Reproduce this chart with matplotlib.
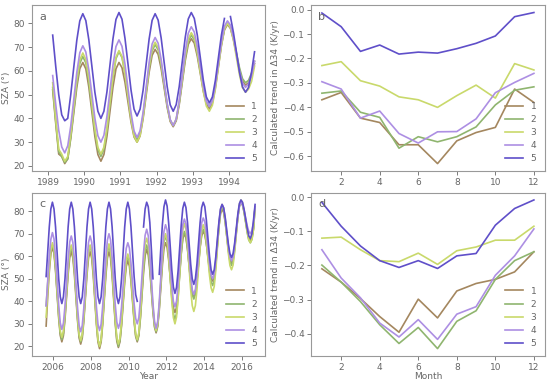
import numpy as np
import matplotlib
matplotlib.use('Agg')
import matplotlib.pyplot as plt

labels = ['1', '2', '3', '4', '5']
colors = ['#a4875f', '#8fb56f', '#c9d96b', '#ad8fe3', '#5f4fc9']

# panel a: monthly SZA, Feb 1989 - Sep 1994
a1 = [52, 38, 25, 24, 21, 23, 31.6, 42.3, 53, 60.9, 63.5,
      60.8, 53.1, 42.8, 32.4, 24.8, 22, 24.8, 32.4, 42.8, 53.1, 60.8, 63.5,
      61.3, 55.1, 46.8, 38.4, 32.2, 30, 32.6, 39.8, 49.5, 59.3, 66.5, 69,
      66.9, 60.9, 52.8, 44.6, 38.7, 36.5, 39, 45.8, 55, 64.3, 71.1, 73.5,
      71.6, 66.1, 58.8, 51.4, 46, 44, 46.4, 52.9, 61.8, 70.6, 77.1, 79.5,
      77.8, 73.1, 66.8, 60.4, 55.7, 54, 55, 58, 63]
a2 = [53, 39, 26, 24, 21.5, 23, 32.3, 43.5, 54.8, 63.1, 66,
      63.3, 55.5, 45, 34.5, 26.8, 24, 27, 35, 46, 57, 65.1, 68,
      65.6, 58.8, 49.5, 40.3, 33.5, 31, 33.7, 41, 51, 61, 68.4, 71,
      68.8, 62.5, 54, 45.5, 39.3, 37, 39.5, 46.5, 56, 65.5, 72.5, 75,
      73, 67.5, 60, 52.5, 47, 45, 47.3, 53.8, 62.5, 71.3, 77.7, 80,
      78.4, 73.8, 67.5, 61.3, 56.7, 55, 56, 59, 64]
a3 = [55, 40, 27, 25, 22, 24, 33.4, 44.8, 56.1, 64.5, 67.5,
      64.7, 56.9, 46.3, 35.6, 27.8, 25, 27.9, 35.9, 46.8, 57.6, 65.7, 68.5,
      66, 58.9, 49.3, 39.6, 32.6, 30, 32.8, 40.5, 51, 61.5, 69.3, 72,
      69.7, 63.3, 54.5, 45.8, 39.3, 37, 39.6, 46.8, 56.5, 66.3, 73.5, 76,
      73.9, 67.8, 59.5, 51.3, 45.2, 43, 45.5, 52.3, 61.5, 70.8, 77.6, 80,
      78.1, 72.8, 65.5, 58.3, 52.9, 51, 52.3, 55.5, 62]
a4 = [58, 46, 35, 28, 25.5, 28.5, 36.8, 48, 59.3, 67.6, 70.5,
      67.9, 60.4, 50.3, 40.1, 32.7, 30, 32.9, 40.8, 51.5, 62.3, 70.2, 73,
      70.3, 62.8, 52.5, 42.3, 34.7, 32, 34.8, 42.5, 53, 63.5, 71.3, 74,
      71.6, 64.8, 55.5, 46.3, 39.5, 37, 39.8, 47.4, 57.8, 68.1, 75.8, 78.5,
      76.3, 70.1, 61.8, 53.4, 47.2, 45, 47.4, 54, 63, 72, 78.7, 81,
      79.2, 74, 67, 60, 54.9, 53, 54.5, 58, 64]
a5 = [75, 62, 50, 41.5, 39, 40, 50, 61.5, 72.8, 81, 84,
      81.1, 73, 62, 51, 43, 40, 43, 51.1, 62.3, 73.4, 81.6, 84.5,
      81.7, 73.6, 62.8, 51.9, 43.9, 41, 43.9, 51.8, 62.5, 73.3, 81.2, 84,
      81.3, 73.8, 63.5, 53.3, 45.7, 43, 45.8, 53.4, 63.8, 74.1, 81.8, 84.5,
      82, 75, 65.5, 56, 49, 46.5, 49, 56, 65.5, 75, 82, np.nan,
      82.8, 76, 67.8, 59.4, 53.2, 51, 53, 59.5, 68]

# panel c: monthly SZA, Aug 2005 - Sep 2016
c1 = [29, 42, 53, 61, 64,
      61.3, 53.5, 43, 32.5, 24.8, 22, 24.7, 32, 42, 52, 59.4, 62,
      59.3, 51.8, 41.5, 31.3, 23.7, 21, 23.7, 31.3, 41.5, 51.8, 59.3, 62,
      59.2, 51.3, 40.5, 29.8, 21.9, 19, 21.9, 29.8, 40.5, 51.3, 59.2, 62,
      59.2, 51.4, 40.8, 30.1, 22.3, 19.5, 22.1, 29.1, 38.8, 48.4, 55.5, 58,
      55.7, 49, 40, 31, 24.4, 22, 24.7, 32.3, 42.5, 52.8, 60.3, 63,
      60.6, 53.8, 44.5, 35.3, 28.5, 26, 28.7, 36, 46, 56, 63.4, 66,
      64, 58.3, 50.5, 42.8, 37.1, 35, 37.3, 43.8, 52.5, 61.3, 67.7, 70,
      68.2, 63, 56, 49, 43.9, 42, 43.9, 49.3, 56.5, 63.8, 69.1, 71,
      69.6, 65.5, 60, 54.5, 50.5, 49, 51.1, 57, 65, 73, 78.9, 81,
      79.4, 75, 69, 63, 58.6, 57, 58.8, 63.8, 70.5, 77.3, 82.2, 84,
      82.9, 79.8, 75.5, 71.3, 68.1, 67, 68.5, 72.5, 82]
c2 = [38, 48, 57, 62.5, 65,
      62.3, 54.5, 44, 33.5, 25.8, 23, 25.7, 33.3, 43.5, 53.8, 61.3, 64,
      61.3, 53.5, 43, 32.5, 24.8, 22, 24.8, 32.6, 43.3, 53.9, 61.7, 64.5,
      61.6, 53.4, 42.3, 31.1, 23, 20, 23, 31.1, 42.3, 53.4, 61.6, 64.5,
      61.6, 53.4, 42.3, 31.1, 23, 20, 22.7, 30, 40, 50, 57.4, 60,
      57.6, 50.6, 41.3, 31.9, 25, 22.5, 25.3, 33.1, 43.8, 54.4, 62.2, 65,
      62.5, 55.4, 45.8, 36.1, 29, 26.5, 29.3, 37.1, 47.8, 58.4, 66.2, 69,
      66.6, 59.8, 50.5, 41.3, 34.5, 32, 34.6, 41.8, 51.5, 61.3, 68.5, 71,
      69, 63.5, 56, 48.5, 43, 41, 43.1, 48.8, 56.5, 64.3, 70, 72,
      70.4, 65.8, 59.5, 53.3, 48.7, 47, 49.3, 55.8, 64.5, 73.3, 79.7, 82,
      80.3, 75.5, 69, 62.5, 57.7, 56, 57.9, 63, 70, 77, 82.2, 84,
      82.8, 79.5, 75, 70.5, 67.2, 66, 67.5, 72, 82]
c3 = [33, 44, 55, 62.5, 66,
      63.3, 55.5, 45, 34.5, 26.8, 24, 26.7, 34.3, 44.5, 54.8, 62.3, 65,
      62.2, 54.4, 43.8, 33.1, 25.3, 22.5, 25.3, 33.1, 43.8, 54.4, 62.2, 65,
      62.1, 53.8, 42.5, 31.3, 23, 20, 23, 31.4, 42.8, 54.1, 62.5, 65.5,
      62.6, 54.4, 43.3, 32.1, 24, 21, 23.7, 31, 41, 51, 58.4, 61,
      58.5, 51.5, 42, 32.5, 25.5, 23, 26, 34.3, 45.5, 56.8, 65.1, 68,
      65.3, 57.8, 47.5, 37.3, 29.7, 27, 29.9, 37.8, 48.5, 59.3, 67.2, 70,
      67.4, 60, 50, 40, 32.7, 30, 33, 41.1, 52.3, 63.4, 71.6, 74.5,
      72, 64.8, 55, 45.3, 38.1, 35.5, 38.1, 45.1, 54.8, 64.4, 71.5, 74,
      72, 66.5, 59, 51.5, 46, 44, 46.6, 53.8, 63.5, 73.3, 80.5, 83,
      81.1, 75.8, 68.5, 61.3, 55.9, 54, 56.1, 61.8, 69.5, 77.3, 83, 85,
      83.8, 80.3, 75.5, 70.8, 67.3, 66, 67.5, 72, 82]
c4 = [38, 49, 60, 67.5, 70.5,
      67.7, 59.8, 49, 38.3, 30.4, 27.5, 30.3, 37.9, 48.3, 58.6, 66.3, 69,
      66.2, 58.4, 47.8, 37.1, 29.3, 26.5, 29.3, 37.1, 47.8, 58.4, 66.2, 69,
      66.3, 58.5, 48, 37.5, 29.8, 27, 29.9, 37.8, 48.5, 59.3, 67.2, 70,
      67.3, 59.5, 49, 38.5, 30.8, 28, 30.5, 37.5, 47, 56.5, 63.5, 66,
      63.7, 57, 48, 39, 32.4, 30, 32.8, 40.5, 51, 61.5, 69.3, 72,
      69.1, 61, 50, 39, 31, 28, 31.1, 39.5, 51, 62.5, 71, 74,
      71.6, 64.9, 55.8, 46.6, 40, 37.5, 40.1, 47.3, 57, 66.8, 74, 76.5,
      74.3, 68.1, 59.8, 51.4, 45.2, 43, 45.3, 51.5, 60, 68.5, 74.8, 77,
      75.2, 70.3, 63.5, 56.8, 51.8, 50, 52.2, 58.3, 66.5, 74.8, 80.9, 83,
      81.4, 76.8, 70.5, 64.3, 59.7, 58, 59.7, 64.5, 71, 77.5, 82.3, 84,
      83, 80.5, 77, 73.5, 71, 70, 71.5, 75, 82]
c5 = [51, 62, 73, 81, 84,
      81, 73, 61.5, 50, 42, 39, 42, 50, 61.5, 73, 81, 84,
      81, 73, 61.5, 50, 42, 39, 42, 50, 61.5, 73, 81, 84,
      81, 73, 61.5, 50, 42, 39, 42, 50, 61.5, 73, 81, 84,
      81, 73, 61.5, 50, 42, 39, 42, 50, 61.5, 73, 81, 84,
      81, 73, 62, 51, 43, 40, np.nan, np.nan, np.nan, 73, 81, 84,
      82, 75, 63, 50, np.nan, np.nan, np.nan, 52, 63.5, 74, 82, 85,
      82.3, 74.6, 64.3, 53.9, 46.3, 43.5, 46.2, 53.6, 63.8, 73.9, 81.3, 84,
      81.6, 74.9, 65.8, 56.6, 50, 47.5, 50, 56.6, 65.8, 74.9, 81.6, 84,
      82, 76, 68, 60, 54, 52, 54, 59.8, 67.5, 75.3, 81, 83,
      81.5, 77.1, 71.3, 65.4, 61.1, 59.5, 61.2, 65.9, 72.3, 78.6, 83.4, 85,
      84, 80.8, 76.5, 72.3, 69, 68, 70, 76, 83]

# panels b and d: trend per month
months = np.arange(1, 13)
b1 = [-0.369, -0.339, -0.444, -0.462, -0.553, -0.553, -0.63, -0.537, -0.503, -0.482, -0.325, -0.38]
b2 = [-0.342, -0.333, -0.42, -0.441, -0.567, -0.52, -0.541, -0.52, -0.48, -0.39, -0.33, -0.316]
b3 = [-0.229, -0.213, -0.291, -0.313, -0.357, -0.369, -0.40, -0.352, -0.309, -0.362, -0.221, -0.247]
b4 = [-0.295, -0.325, -0.444, -0.415, -0.507, -0.546, -0.50, -0.499, -0.447, -0.34, -0.298, -0.261]
b5 = [-0.014, -0.07, -0.171, -0.145, -0.182, -0.174, -0.178, -0.16, -0.138, -0.108, -0.029, -0.012]

d1 = [-0.21, -0.249, -0.297, -0.35, -0.396, -0.299, -0.354, -0.275, -0.253, -0.241, -0.219, -0.16]
d2 = [-0.199, -0.249, -0.306, -0.374, -0.429, -0.382, -0.444, -0.364, -0.333, -0.241, -0.186, -0.16]
d3 = [-0.12, -0.117, -0.154, -0.186, -0.189, -0.164, -0.197, -0.157, -0.146, -0.126, -0.126, -0.085]
d4 = [-0.154, -0.237, -0.295, -0.369, -0.41, -0.359, -0.417, -0.343, -0.321, -0.229, -0.172, -0.093]
d5 = [-0.015, -0.085, -0.143, -0.186, -0.206, -0.186, -0.209, -0.172, -0.165, -0.082, -0.033, -0.008]

# decimal year at mid-month
t_a = 1989 + (np.arange(len(a1)) + 1.5) / 12
t_c = 2005 + (np.arange(len(c1)) + 7.5) / 12

grey = '#666666'
plt.rcParams['font.size'] = 6.5
plt.rcParams['text.color'] = grey
plt.rcParams['axes.labelcolor'] = grey
plt.rcParams['xtick.color'] = grey
plt.rcParams['ytick.color'] = grey
plt.rcParams['axes.edgecolor'] = '#999999'

fig = plt.figure(figsize=(5.5, 3.82), dpi=100)
ax_a = fig.add_axes([0.058, 0.552, 0.424, 0.435])
ax_b = fig.add_axes([0.566, 0.552, 0.424, 0.435])
ax_c = fig.add_axes([0.058, 0.068, 0.424, 0.428])
ax_d = fig.add_axes([0.566, 0.068, 0.424, 0.428])

for ax, x, ys in [(ax_a, t_a, [a1, a2, a3, a4, a5]),
                  (ax_c, t_c, [c1, c2, c3, c4, c5]),
                  (ax_b, months, [b1, b2, b3, b4, b5]),
                  (ax_d, months, [d1, d2, d3, d4, d5])]:
    for y, lab, col in zip(ys, labels, colors):
        ax.plot(x, y, color=col, lw=1.2, label=lab)
    ax.legend(loc='lower right', frameon=False, fontsize=6.5, labelspacing=0.45)
    ax.tick_params(length=3, width=0.6, labelsize=6.5, pad=2)
    for s in ax.spines.values():
        s.set_linewidth(0.8)

ax_a.set_xlim(1988.55, 1995.0)
ax_a.set_xticks([1989, 1990, 1991, 1992, 1993, 1994])
ax_a.set_yticks([20, 30, 40, 50, 60, 70, 80])
ax_c.set_xlim(2004.87, 2017.24)
ax_c.set_xticks([2006, 2008, 2010, 2012, 2014, 2016])
ax_c.set_yticks([20, 30, 40, 50, 60, 70, 80])
ax_b.set_xticks([2, 4, 6, 8, 10, 12])
ax_d.set_xticks([2, 4, 6, 8, 10, 12])

ax_a.set_ylabel('SZA (°)', labelpad=2)
ax_c.set_ylabel('SZA (°)', labelpad=2)
ax_b.set_ylabel('Calculated trend in Δ34 (K/yr)', labelpad=2)
ax_d.set_ylabel('Calculated trend in Δ34 (K/yr)', labelpad=2)
ax_c.set_xlabel('Year', labelpad=0)
ax_d.set_xlabel('Month', labelpad=0)

for ax, letter in zip([ax_a, ax_b, ax_c, ax_d], 'abcd'):
    ax.text(0.03, 0.93, letter, transform=ax.transAxes, fontsize=8, color=grey, va='center')

fig.savefig('out.png', dpi=100)
